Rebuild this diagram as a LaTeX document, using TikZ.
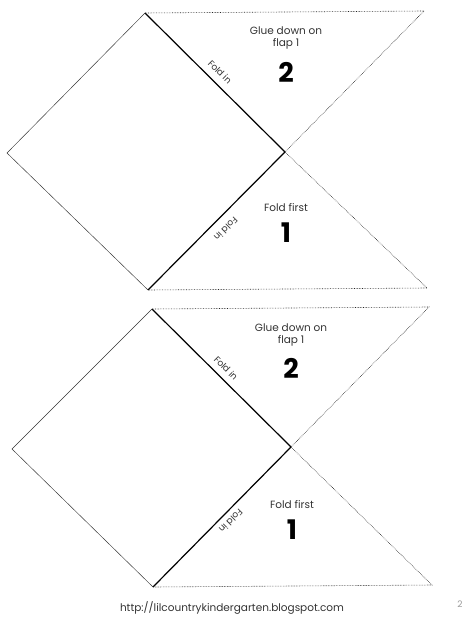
\documentclass[tikz,border=0pt]{standalone}
\usepackage{fontspec}
\setmainfont{Poppins}
\usetikzlibrary{positioning}

\tikzstyle{foldline} = [line width=1.2pt, black]
\tikzstyle{cutline} = [line width=0.6pt, black!85, densely dotted]
\tikzstyle{edgeline} = [line width=0.45pt, black!80]
\tikzstyle{flaptext} = [font=\fontsize{10.5}{12}\selectfont, text=black!80, align=center, inner sep=0pt]
\tikzstyle{flapnum} = [font=\fontsize{27}{27}\bfseries, inner sep=0pt]
\tikzstyle{foldtext} = [font=\fontsize{9}{9}\selectfont, text=black!80, inner sep=0pt]

\begin{document}
\begin{tikzpicture}[x=1pt, y=-1pt]

\useasboundingbox (0,0) rectangle (462,620);

% upper piece
\coordinate (top1) at (145,13);
\coordinate (left1) at (7,153);
\coordinate (bot1) at (148,290);
\coordinate (mid1) at (285,152);
\coordinate (topright1) at (424,11);
\coordinate (botright1) at (427,288);

\draw [edgeline] (top1) -- (left1) -- (bot1);
\draw [foldline] (top1) -- (mid1) -- (bot1);
\draw [cutline] (top1) -- (topright1) -- (mid1);
\draw [cutline] (mid1) -- (botright1) -- (bot1);

\node (glue1) [flaptext] at (286,38) {Glue down on\\flap 1};
\node (two1) [flapnum] at (286,72) {2};
\node (foldup1) [foldtext, rotate=-45] at (220,72) {Fold in};
\node (first1) [flaptext] at (286,208) {Fold first};
\node (one1) [flapnum] at (286,233) {1};
\node (folddown1) [foldtext, rotate=225] at (226,229) {Fold in};

% lower piece
\coordinate (top2) at (152,309);
\coordinate (left2) at (12,449);
\coordinate (bot2) at (153,587);
\coordinate (mid2) at (291,447);
\coordinate (topright2) at (429,307);
\coordinate (botright2) at (432,585);

\draw [edgeline] (top2) -- (left2) -- (bot2);
\draw [foldline] (top2) -- (mid2) -- (bot2);
\draw [cutline] (top2) -- (topright2) -- (mid2);
\draw [cutline] (mid2) -- (botright2) -- (bot2);

\node (glue2) [flaptext] at (291,335) {Glue down on\\flap 1};
\node (two2) [flapnum] at (291,368) {2};
\node (foldup2) [foldtext, rotate=-45] at (226,368) {Fold in};
\node (first2) [flaptext] at (292,505) {Fold first};
\node (one2) [flapnum] at (292,530) {1};
\node (folddown2) [foldtext, rotate=225] at (231,521) {Fold in};

\node (url) [flaptext, font=\fontsize{10.5}{12}\selectfont] at (232,608)
{http://lilcountrykindergarten.blogspot.com};
\node (page) [foldtext, text=black!40] at (460,604) {2};

\end{tikzpicture}
\end{document}
